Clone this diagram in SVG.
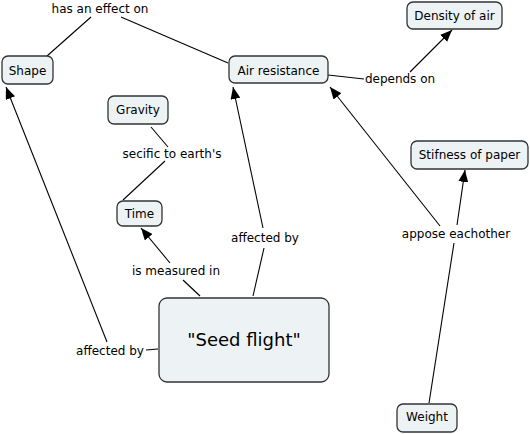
<svg xmlns="http://www.w3.org/2000/svg" width="530" height="434" viewBox="0 0 530 434">
<defs>
<style>
.n{fill:#edf2f4;stroke:#333;stroke-width:1.3}
.t{font-family:"DejaVu Sans","Verdana",sans-serif;font-size:12px;fill:#000;text-anchor:middle}
.l{fill:none;stroke:#000;stroke-width:1.1}
</style>
<marker id="a" viewBox="0 0 12 10" refX="12" refY="5" markerWidth="12" markerHeight="10" markerUnits="userSpaceOnUse" orient="auto">
<path d="M0,0 L12,5 L0,10 Z" fill="#000"/>
</marker>
</defs>
<rect width="530" height="434" fill="#fff"/>
<g id="connectors">
<line class="l" x1="47" y1="56" x2="91" y2="17"/>
<line class="l" x1="121" y1="17" x2="228" y2="63"/>
<line class="l" x1="328" y1="75" x2="364" y2="79"/>
<line class="l" x1="410" y1="72" x2="452" y2="30" marker-end="url(#a)"/>
<line class="l" x1="151" y1="127" x2="168" y2="147"/>
<line class="l" x1="165" y1="161" x2="123" y2="200"/>
<line class="l" x1="200" y1="296" x2="183" y2="280"/>
<line class="l" x1="170" y1="263" x2="141" y2="228" marker-end="url(#a)"/>
<line class="l" x1="253" y1="296" x2="264" y2="248"/>
<line class="l" x1="263" y1="228" x2="233" y2="87" marker-end="url(#a)"/>
<line class="l" x1="158" y1="349" x2="146" y2="350"/>
<line class="l" x1="107" y1="342" x2="6" y2="87" marker-end="url(#a)"/>
<line class="l" x1="429" y1="403" x2="454" y2="243"/>
<line class="l" x1="457" y1="225" x2="465" y2="170" marker-end="url(#a)"/>
<line class="l" x1="440" y1="226" x2="330" y2="87" marker-end="url(#a)"/>
<text class="t" x="100" y="13">has an effect on</text>
<text class="t" x="400" y="83">depends on</text>
<text class="t" x="172" y="158">secific to earth's</text>
<text class="t" x="265" y="242">affected by</text>
<text class="t" x="176" y="275">is measured in</text>
<text class="t" x="110" y="355">affected by</text>
<text class="t" x="456" y="238">appose eachother</text>
</g>
<g id="shape"><rect class="n" x="2" y="56" width="51" height="28" rx="6"/><text class="t" x="27.5" y="75">Shape</text></g>
<g id="air-resistance"><rect class="n" x="229" y="56" width="99" height="27" rx="6"/><text class="t" x="278.5" y="75">Air resistance</text></g>
<g id="density"><rect class="n" x="407" y="2" width="95" height="27" rx="6"/><text class="t" x="454.5" y="20">Density of air</text></g>
<g id="gravity"><rect class="n" x="108" y="96" width="60" height="28" rx="6"/><text class="t" x="138" y="114">Gravity</text></g>
<g id="time"><rect class="n" x="117" y="201" width="45" height="25" rx="6"/><text class="t" x="139.5" y="218">Time</text></g>
<g id="stifness"><rect class="n" x="411" y="141" width="117" height="28" rx="6"/><text class="t" x="469.5" y="159">Stifness of paper</text></g>
<g id="seed-flight"><rect class="n" x="159" y="298" width="170" height="84" rx="8"/><text class="t" x="244" y="346" style="font-size:18px">"Seed flight"</text></g>
<g id="weight"><rect class="n" x="397" y="404" width="60" height="28" rx="6"/><text class="t" x="427" y="421">Weight</text></g>
</svg>
